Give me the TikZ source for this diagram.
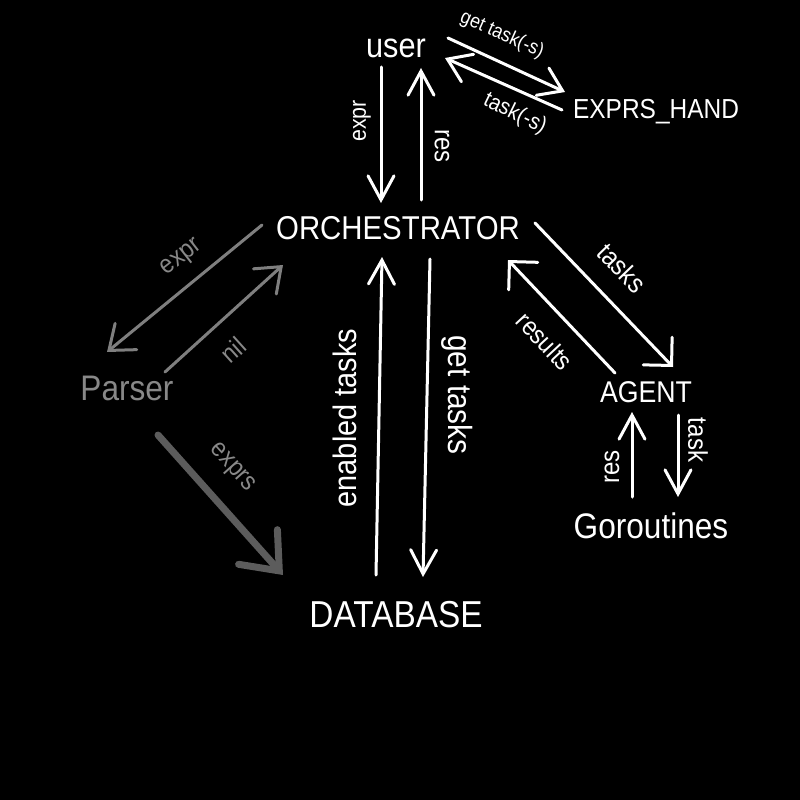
\documentclass[tikz,border=0pt]{standalone}
\usepackage{fontspec}
\setmainfont{Liberation Sans}[FakeStretch=0.89]
\usetikzlibrary{arrows.meta,calc}
\definecolor{greyline}{HTML}{7F7F7F}
\definecolor{greytext}{HTML}{888888}
\definecolor{darkline}{HTML}{5C5C5C}
\newcommand{\fs}[1]{\fontsize{#1pt}{#1pt}\selectfont}
\tikzset{
  lbl/.style={text=white, inner sep=0pt, anchor=base},
  glbl/.style={text=greytext, inner sep=0pt, anchor=center},
  wlbl/.style={text=white, inner sep=0pt, anchor=center},
  varr/.style={draw=white, line width=3pt, line cap=round, -{Straight Barb[length=24pt,width=26pt,line cap=round]}},
  tarr/.style={draw=white, line width=3pt, line cap=round, -{Straight Barb[length=22pt,width=30pt,line cap=round]}},
  darr/.style={draw=white, line width=3pt, line cap=round, -{Straight Barb[length=20pt,width=40pt,line cap=round]}},
  garr/.style={draw=greyline, line width=3pt, line cap=round, -{Straight Barb[length=22pt,width=34pt,line cap=round]}},
  exarr/.style={draw=darkline, line width=7pt, line cap=round, -{Straight Barb[length=32pt,width=52pt,line cap=round]}},
}
\begin{document}
\begin{tikzpicture}[x=1pt,y=-1pt]
\fill[black] (0,0) rectangle (800,800);
\useasboundingbox (0,0) rectangle (800,800);

% nodes
\node[lbl, font=\fs{34.5}] (user) at (396,58) {user};
\node[lbl, font=\fs{27.5}] (hand) at (656,118) {EXPRS\_HAND};
\node[lbl, font=\fs{33}] (orch) at (398,239) {ORCHESTRATOR};
\node[lbl, font=\fs{35.5}, text=greytext] (parser) at (127,400) {Parser};
\node[lbl, font=\fs{30}] (agent) at (646,402) {AGENT};
\node[lbl, font=\fs{35.5}] (gor) at (651,538) {Goroutines};
\node[lbl, font=\fs{37.5}] (db) at (396,627) {DATABASE};

% connectors
\draw[varr] ($(user.base)+(-15,9)$) -- ($(orch.base)+(-17,-36)$);
\draw[varr] ($(orch.base)+(23,-39)$) -- ($(user.base)+(25,10)$);
\draw[tarr] ($(user.base)+(52,-20)$) -- ($(hand.base)+(-91,-26)$);
\draw[tarr] ($(hand.base)+(-94,-8)$) -- ($(user.base)+(49,0)$);
\draw[garr] ($(orch.base)+(-136,-14)$) -- ($(parser.base)+(-20,-48)$);
\draw[garr] ($(parser.base)+(38,-28)$) -- ($(orch.base)+(-115,26)$);
\draw[exarr] ($(parser.base)+(31,35)$) -- ($(db.base)+(-113,-52)$);
\draw[varr] ($(db.base)+(-20,-52)$) -- ($(orch.base)+(-16,18)$);
\draw[varr] ($(orch.base)+(32,20)$) -- ($(db.base)+(27,-50)$);
\draw[darr] ($(orch.base)+(137,-16)$) -- ($(agent.base)+(27,-35)$);
\draw[darr] ($(agent.base)+(-31,-29)$) -- ($(orch.base)+(110,21)$);
\draw[varr] ($(gor.base)+(-19,-41)$) -- ($(agent.base)+(-14,10)$);
\draw[varr] ($(agent.base)+(32,13)$) -- ($(gor.base)+(27,-41)$);

% connector labels
\node[wlbl, font=\fs{24}, rotate=90] (lexpr) at (362,121) {expr};
\node[wlbl, font=\fs{27}, rotate=-90] (lres) at (442,146) {res};
\node[wlbl, font=\fs{20}, rotate=-24] (lget) at (502,35) {get task(-s)};
\node[wlbl, font=\fs{22.5}, rotate=-26] (ltasks) at (515,114) {task(-s)};
\node[glbl, font=\fs{26}, rotate=38] (lgexpr) at (182,258) {expr};
\node[glbl, font=\fs{26}, rotate=42] (lnil) at (233,350) {nil};
\node[glbl, font=\fs{26}, rotate=-48] (lexprs) at (232,468) {exprs};
\node[wlbl, font=\fs{32.5}, rotate=90] (lenabled) at (345,418) {enabled tasks};
\node[wlbl, font=\fs{33.5}, rotate=-90] (lgettasks) at (457,395) {get tasks};
\node[wlbl, font=\fs{27}, rotate=-46] (ltasks2) at (622,268) {tasks};
\node[wlbl, font=\fs{26}, rotate=-47] (lresults) at (545,341) {results};
\node[wlbl, font=\fs{27}, rotate=90] (lres2) at (612,467) {res};
\node[wlbl, font=\fs{27}, rotate=-90] (ltask) at (698,440) {task};
\end{tikzpicture}
\end{document}
